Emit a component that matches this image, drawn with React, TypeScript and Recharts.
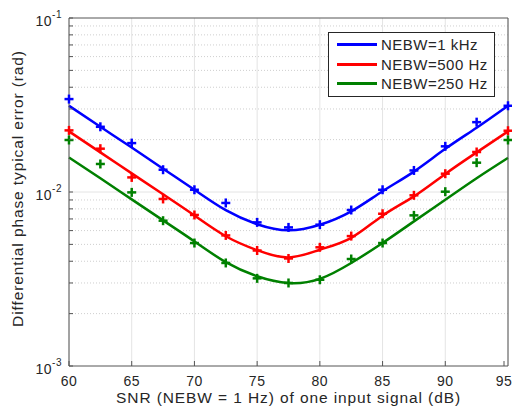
import React from "react";
import {
  ComposedChart,
  Line,
  Scatter,
  XAxis,
  YAxis,
  CartesianGrid,
  ReferenceLine,
  Legend,
  Label,
} from "recharts";

// SNR grid (dB) shared by the fitted curves and the simulated points
const snr = [60, 62.5, 65, 67.5, 70, 72.5, 75, 77.5, 80, 82.5, 85, 87.5, 90, 92.5, 95];

// theoretical curves (solid lines)
const curve1k = [0.0313, 0.0237, 0.018, 0.0136, 0.0103, 0.00786, 0.00653, 0.00602, 0.00648, 0.00774, 0.0101, 0.0131, 0.0177, 0.0234, 0.0313];
const curve500 = [0.0223, 0.0169, 0.0128, 0.0097, 0.00733, 0.00557, 0.00463, 0.00421, 0.00466, 0.00545, 0.00731, 0.00944, 0.0127, 0.0169, 0.0223];
const curve250 = [0.0158, 0.012, 0.00907, 0.00687, 0.0052, 0.00395, 0.00328, 0.003, 0.00317, 0.00391, 0.00509, 0.00678, 0.00903, 0.012, 0.0157];

// simulated values (+ markers)
const marks1k = [0.0342, 0.0237, 0.0191, 0.01343, 0.0103, 0.00865, 0.00669, 0.00626, 0.00649, 0.00788, 0.0103, 0.0133, 0.0183, 0.0252, 0.0313];
const marks500 = [0.0226, 0.01774, 0.01213, 0.00912, 0.00738, 0.00563, 0.00461, 0.00415, 0.00481, 0.00558, 0.0075, 0.00957, 0.01274, 0.01698, 0.0225];
const marks250 = [0.0199, 0.01449, 0.00995, 0.00684, 0.00509, 0.00391, 0.00319, 0.003, 0.00313, 0.00412, 0.00509, 0.00734, 0.01004, 0.01474, 0.0199];

const seriesNames = ["NEBW=1 kHz", "NEBW=500 Hz", "NEBW=250 Hz"];
const seriesColors = ["#0000ff", "#ff0000", "#008000"];

const xTicks = [60, 65, 70, 75, 80, 85, 90, 95];
const yTicks = [
  0.001, 0.002, 0.003, 0.004, 0.005, 0.006, 0.007, 0.008, 0.009,
  0.01, 0.02, 0.03, 0.04, 0.05, 0.06, 0.07, 0.08, 0.09, 0.1,
];

const AXIS = "#555";
const TEXT = "#262626";
const FONT = '"Liberation Sans", Arial, Helvetica, sans-serif';

const toPoints = (ys: number[]) => snr.map((x, i) => ({ x, y: ys[i] }));
const curves = [curve1k, curve500, curve250].map(toPoints);
const marks = [marks1k, marks500, marks250].map(toPoints);

const isMajor = (v: number) =>
  Math.abs(Math.log10(v) - Math.round(Math.log10(v))) < 1e-9;

const LeftTick = ({ x, y, payload }: any) => {
  const v = payload.value;
  return (
    <g>
      <line x1={x} x2={x + 4} y1={y} y2={y} stroke={AXIS} />
      {isMajor(v) && (
        <text x={x - 7} y={y + 8} textAnchor="end" fill={TEXT} fontSize={14} letterSpacing={0.5} fontFamily={FONT}>
          10
          <tspan dy={-8} fontSize={10}>
            {Math.round(Math.log10(v))}
          </tspan>
        </text>
      )}
    </g>
  );
};

const RightTick = ({ x, y }: any) => (
  <line x1={x - 4} x2={x} y1={y} y2={y} stroke={AXIS} />
);

const BottomTick = ({ x, y, payload }: any) => (
  <g>
    <line x1={x} x2={x} y1={y} y2={y - 5} stroke={AXIS} />
    <text x={x} y={y + 20} textAnchor="middle" fill={TEXT} fontSize={14} letterSpacing={0.5} fontFamily={FONT}>
      {payload.value}
    </text>
  </g>
);

const TopTick = ({ x, y }: any) => (
  <line x1={x} x2={x} y1={y} y2={y + 5} stroke={AXIS} />
);

const Plus = ({ cx, cy, fill }: any) => (
  <g stroke={fill} strokeWidth={2.5}>
    <line x1={cx - 4.5} x2={cx + 4.5} y1={cy} y2={cy} />
    <line x1={cx} x2={cx} y1={cy - 4.5} y2={cy + 4.5} />
  </g>
);

const LegendBox = ({ payload }: any) => {
  const items = (payload || [])
    .filter((p: any) => p.type !== "none")
    .sort((a: any, b: any) => seriesNames.indexOf(a.value) - seriesNames.indexOf(b.value));
  return (
    <div
      style={{
        width: 167,
        boxSizing: "border-box",
        border: "1px solid #262626",
        background: "#fff",
        padding: "2px 0 2px 8px",
        fontFamily: FONT,
        fontSize: 15,
        letterSpacing: 0.5,
        color: TEXT,
        whiteSpace: "nowrap",
      }}
    >
      {items.map((p: any) => (
        <div key={p.value} style={{ display: "flex", alignItems: "center", height: 19.5 }}>
          <span style={{ display: "inline-block", flexShrink: 0, width: 40, height: 3, background: p.color, marginRight: 4 }} />
          <span>{p.value}</span>
        </div>
      ))}
    </div>
  );
};

export default function App() {
  return (
    <div style={{ position: "absolute", left: 0, top: 0, width: 512, height: 412, background: "#fff" }}>
      <ComposedChart width={512} height={412} margin={{ top: 0, right: 0, bottom: 0, left: 0 }}>
        <CartesianGrid horizontal={false} stroke="#e4e4e4" strokeWidth={1} />
        {yTicks.slice(1, -1).map((v) => (
          <ReferenceLine
            key={v}
            y={v}
            stroke={isMajor(v) ? "#e4e4e4" : "#cfcfcf"}
            strokeDasharray={isMajor(v) ? undefined : "1 2"}
          />
        ))}

        <XAxis
          dataKey="x"
          type="number"
          domain={[60, 95]}
          ticks={xTicks}
          height={46}
          stroke={AXIS}
          tickSize={0}
          tickMargin={0}
          tick={<BottomTick />}
        >
          <Label
            content={({ viewBox }: any) => (
              <text
                x={viewBox.x + viewBox.width / 2}
                y={403}
                textAnchor="middle"
                fill={TEXT}
                fontSize={15.5}
                letterSpacing={0.9}
                fontFamily={FONT}
              >
                SNR (NEBW = 1 Hz) of one input signal (dB)
              </text>
            )}
          />
        </XAxis>
        <XAxis
          xAxisId="t"
          orientation="top"
          type="number"
          domain={[60, 95]}
          ticks={xTicks}
          height={18}
          stroke={AXIS}
          tickSize={0}
          tickMargin={0}
          tick={<TopTick />}
        />
        <YAxis
          scale="log"
          type="number"
          domain={[0.001, 0.1]}
          ticks={yTicks}
          width={69}
          stroke={AXIS}
          tickSize={0}
          tickMargin={0}
          interval={0}
          tick={<LeftTick />}
        >
          <Label
            content={() => (
              <text
                x={23}
                y={188.5}
                transform="rotate(-90 23 188.5)"
                textAnchor="middle"
                fill={TEXT}
                fontSize={15.5}
                letterSpacing={0.9}
                fontFamily={FONT}
              >
                Differential phase typical error (rad)
              </text>
            )}
          />
        </YAxis>
        <YAxis
          yAxisId="r"
          orientation="right"
          scale="log"
          type="number"
          domain={[0.001, 0.1]}
          ticks={yTicks}
          width={4}
          stroke={AXIS}
          tickSize={0}
          tickMargin={0}
          interval={0}
          tick={<RightTick />}
        />

        {curves.map((d, i) => (
          <Line
            key={seriesNames[i]}
            data={d}
            dataKey="y"
            name={seriesNames[i]}
            type="natural"
            stroke={seriesColors[i]}
            strokeWidth={2.5}
            dot={false}
            activeDot={false}
            isAnimationActive={false}
          />
        ))}
        {marks.map((d, i) => (
          <Scatter
            key={"m" + seriesNames[i]}
            data={d}
            dataKey="y"
            fill={seriesColors[i]}
            legendType="none"
            shape={<Plus />}
            isAnimationActive={false}
          />
        ))}

        <Legend
          layout="vertical"
          align="center"
          verticalAlign="middle"
          content={<LegendBox />}
          wrapperStyle={{ left: 328, top: 32, width: 167 }}
        />
      </ComposedChart>
    </div>
  );
}
